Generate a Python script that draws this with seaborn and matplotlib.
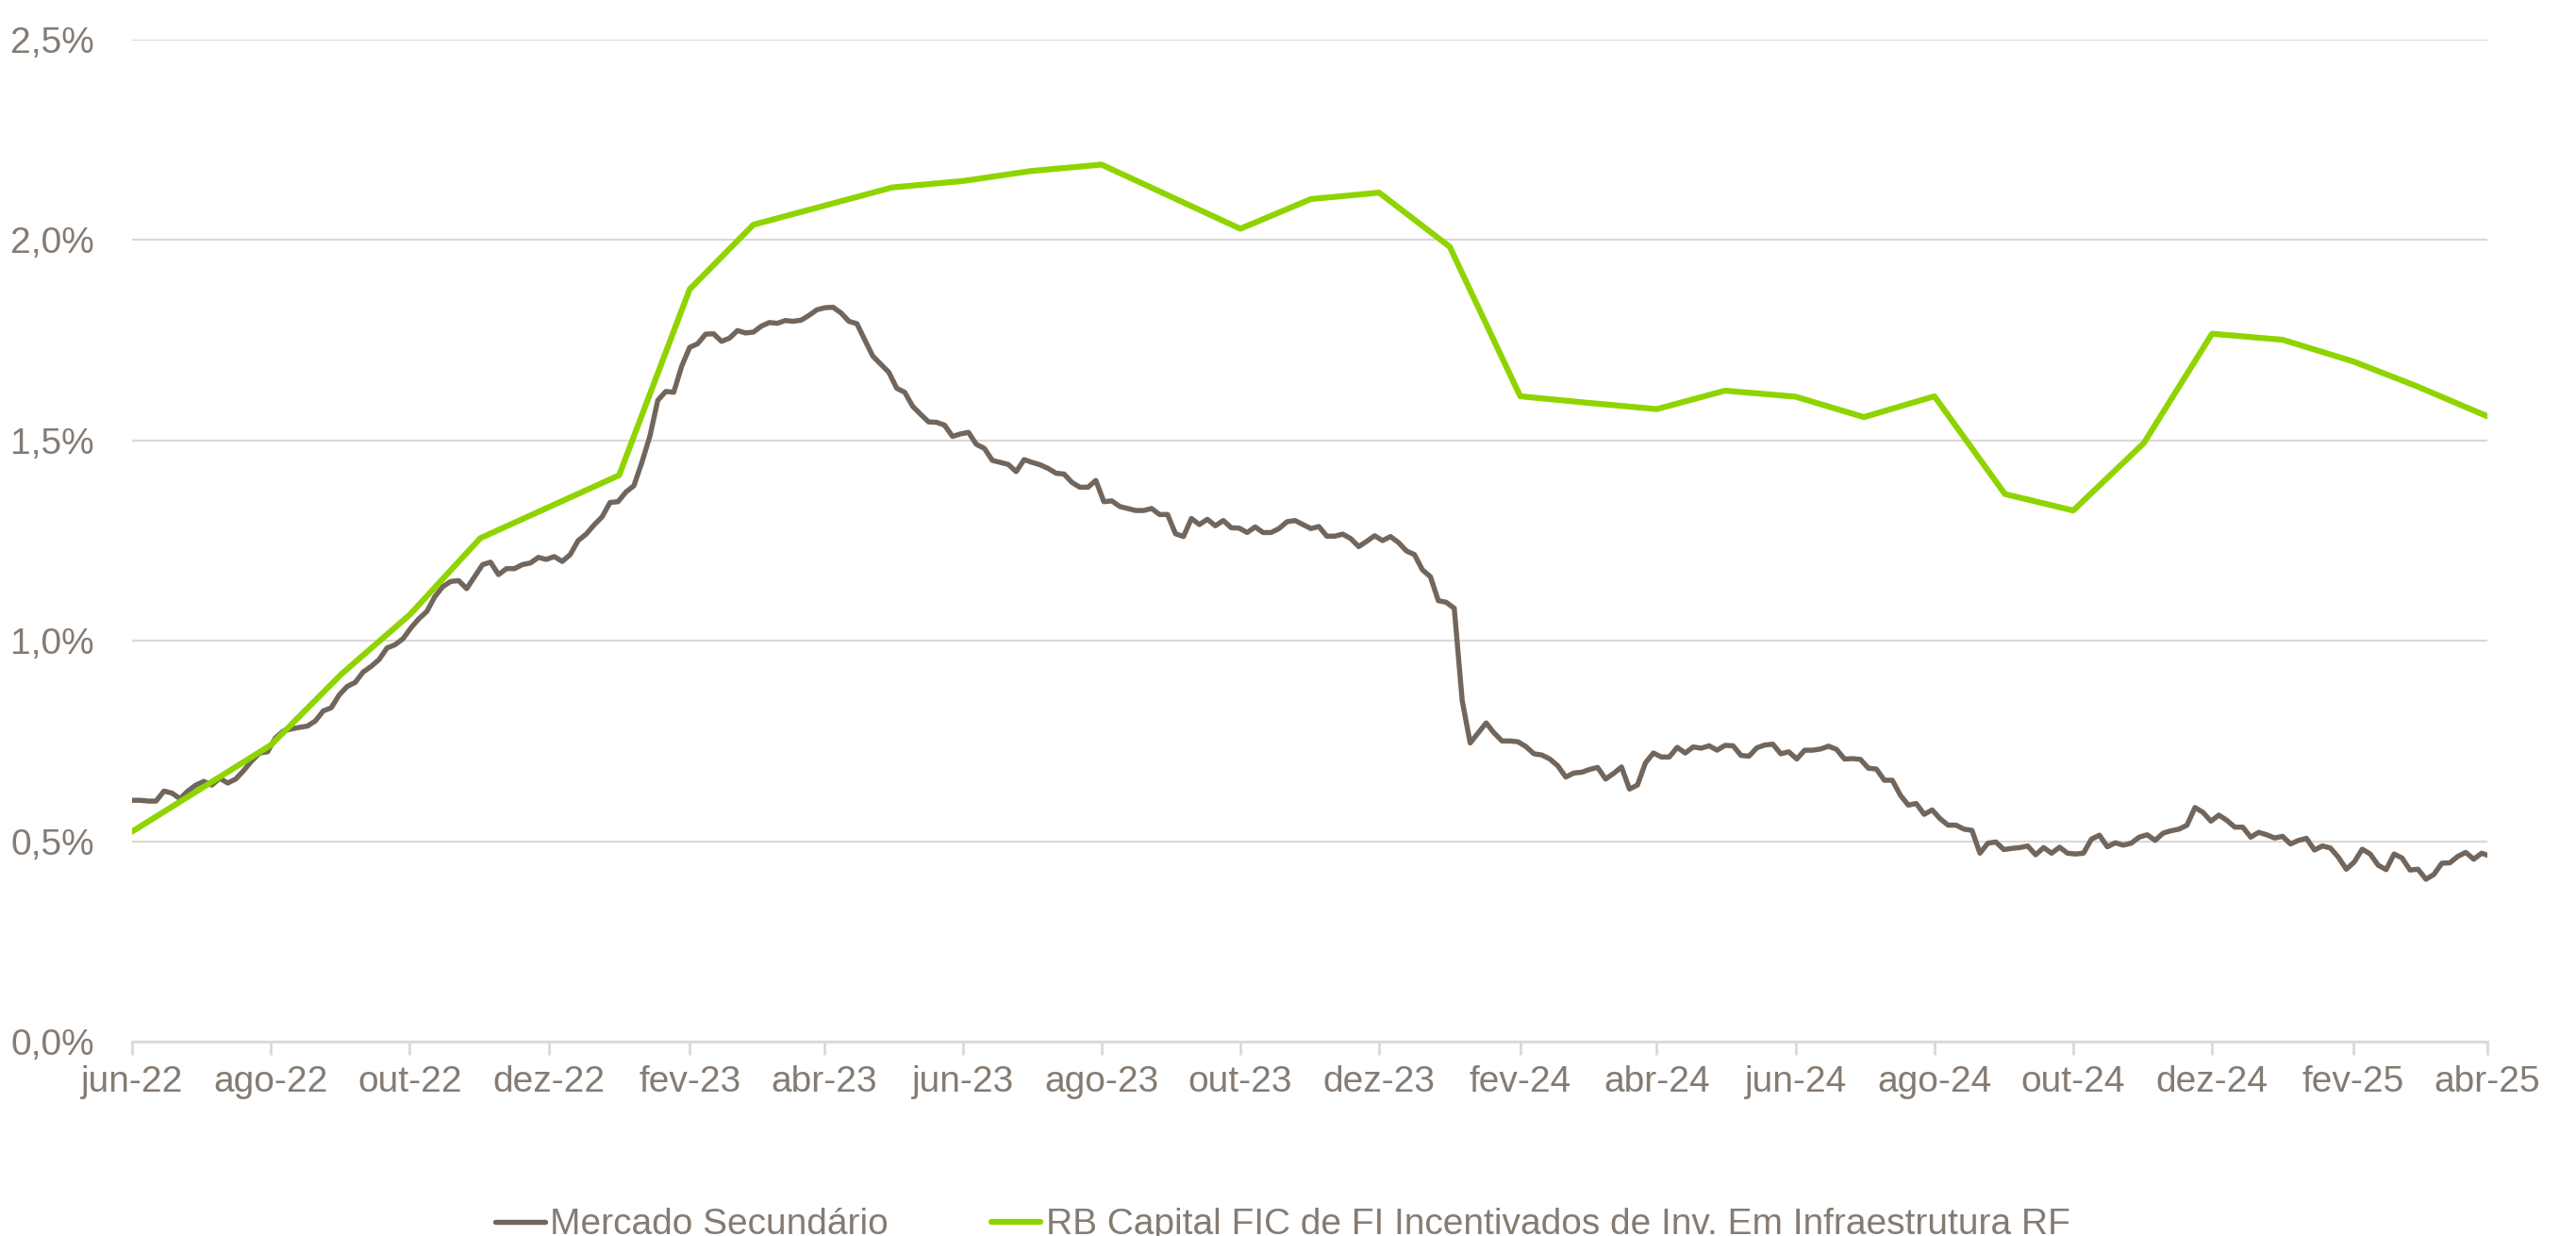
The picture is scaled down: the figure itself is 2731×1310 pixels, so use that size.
import matplotlib
matplotlib.use('Agg')
import pandas as pd
import matplotlib.pyplot as plt
import matplotlib.dates as mdates
from matplotlib.ticker import FuncFormatter
import seaborn as sns

# Mercado Secundário - leitura a cada 3,5 dias a partir de 01/06/2022 (%)
mercado_inicio = '2022-06-01'
mercado_passo = '84h'
mercado_secundario = [
    0.602, 0.602, 0.600, 0.600, 0.625, 0.620, 0.606, 0.625, 0.640, 0.649,
    0.640, 0.657, 0.645, 0.655, 0.676, 0.700, 0.720, 0.723, 0.758, 0.775,
    0.780, 0.784, 0.787, 0.800, 0.825, 0.833, 0.865, 0.886, 0.896, 0.922,
    0.936, 0.953, 0.982, 0.990, 1.005, 1.032, 1.055, 1.073, 1.110, 1.135,
    1.148, 1.150, 1.130, 1.160, 1.190, 1.196, 1.165, 1.180, 1.180, 1.190,
    1.194, 1.208, 1.203, 1.210, 1.198, 1.215, 1.250, 1.266, 1.289, 1.309,
    1.345, 1.347, 1.371, 1.387, 1.445, 1.510, 1.600, 1.622, 1.620, 1.685,
    1.732, 1.741, 1.765, 1.766, 1.747, 1.755, 1.774, 1.768, 1.770, 1.785,
    1.794, 1.792, 1.799, 1.797, 1.800, 1.812, 1.826, 1.831, 1.832, 1.818,
    1.797, 1.791, 1.750, 1.710, 1.690, 1.670, 1.630, 1.620, 1.585, 1.565,
    1.546, 1.545, 1.538, 1.510, 1.516, 1.520, 1.490, 1.480, 1.450, 1.445,
    1.440, 1.422, 1.452, 1.445, 1.439, 1.430, 1.418, 1.416, 1.395, 1.383,
    1.383, 1.400, 1.347, 1.349, 1.335, 1.330, 1.325, 1.325, 1.330, 1.315,
    1.315, 1.267, 1.260, 1.305, 1.290, 1.303, 1.287, 1.300, 1.282, 1.281,
    1.270, 1.284, 1.270, 1.270, 1.280, 1.297, 1.300, 1.290, 1.280, 1.285,
    1.261, 1.261, 1.266, 1.255, 1.235, 1.248, 1.262, 1.250, 1.260, 1.245,
    1.224, 1.215, 1.177, 1.160, 1.100, 1.096, 1.081, 0.850, 0.745, 0.770,
    0.795, 0.770, 0.750, 0.750, 0.748, 0.736, 0.718, 0.715, 0.705, 0.688,
    0.660, 0.670, 0.672, 0.679, 0.684, 0.655, 0.669, 0.685, 0.630, 0.640,
    0.695, 0.720, 0.710, 0.710, 0.734, 0.720, 0.735, 0.732, 0.738, 0.727,
    0.739, 0.738, 0.714, 0.712, 0.733, 0.740, 0.742, 0.718, 0.723, 0.705,
    0.727, 0.727, 0.730, 0.737, 0.729, 0.705, 0.706, 0.704, 0.682, 0.680,
    0.652, 0.652, 0.615, 0.590, 0.594, 0.567, 0.578, 0.556, 0.540, 0.540,
    0.530, 0.527, 0.470, 0.495, 0.498, 0.479, 0.482, 0.484, 0.488, 0.466,
    0.484, 0.470, 0.485, 0.470, 0.468, 0.470, 0.505, 0.515, 0.486, 0.496,
    0.490, 0.495, 0.510, 0.516, 0.502, 0.520, 0.526, 0.530, 0.540, 0.584,
    0.572, 0.550, 0.565, 0.552, 0.535, 0.535, 0.510, 0.522, 0.516, 0.508,
    0.512, 0.493, 0.502, 0.507, 0.478, 0.488, 0.483, 0.460, 0.430, 0.448,
    0.480, 0.468, 0.440, 0.429, 0.468, 0.458, 0.428, 0.430, 0.405, 0.417,
    0.445, 0.446, 0.462, 0.472, 0.455, 0.470, 0.463,
]

# RB Capital FIC - valores mensais (%)
fundo_datas = [
    '2022-06-01', '2022-08-01', '2022-09-01', '2022-10-01', '2022-11-01',
    '2023-01-01', '2023-02-01', '2023-03-01', '2023-05-01', '2023-06-01',
    '2023-07-01', '2023-08-01', '2023-10-01', '2023-11-01', '2023-12-01',
    '2024-01-01', '2024-02-01', '2024-03-01', '2024-04-01', '2024-05-01',
    '2024-06-01', '2024-07-01', '2024-08-01', '2024-09-01', '2024-10-01',
    '2024-11-01', '2024-12-01', '2025-01-01', '2025-02-01', '2025-03-01',
    '2025-04-01',
]
fundo_valores = [
    0.524, 0.740, 0.917, 1.065, 1.256,
    1.413, 1.877, 2.038, 2.131, 2.147,
    2.172, 2.188, 2.028, 2.102, 2.118,
    1.983, 1.610, 1.594, 1.578, 1.624,
    1.609, 1.558, 1.610, 1.366, 1.325,
    1.493, 1.766, 1.751, 1.697, 1.635,
    1.560,
]

meses_pt = {2: 'fev', 4: 'abr', 6: 'jun', 8: 'ago', 10: 'out', 12: 'dez'}
nome_mercado = 'Mercado Secundário'
nome_fundo = 'RB Capital FIC de FI Incentivados de Inv. Em Infraestrutura RF'

cor_mercado = '#72665c'
cor_fundo = '#8fd400'
cor_texto = '#857b72'
cor_grade = '#d9d9d9'

df_mercado = pd.DataFrame({
    'data': pd.date_range(mercado_inicio, periods=len(mercado_secundario), freq=mercado_passo),
    'taxa': mercado_secundario,
})
df_fundo = pd.DataFrame({'data': pd.to_datetime(fundo_datas), 'taxa': fundo_valores})

sns.set_theme(style='white')
plt.rcParams['font.family'] = ['Liberation Sans', 'DejaVu Sans']

fig = plt.figure(figsize=(27.31, 13.10), dpi=100)
ax = fig.add_axes([0.0513, 0.1573, 0.9143, 0.8107])

sns.lineplot(data=df_mercado, x='data', y='taxa', color=cor_mercado, linewidth=3.9,
             label=nome_mercado, ax=ax)
sns.lineplot(data=df_fundo, x='data', y='taxa', color=cor_fundo, linewidth=4.5,
             label=nome_fundo, ax=ax)

ax.set_xlim(pd.Timestamp('2022-06-01'), pd.Timestamp('2025-04-01'))
ax.set_ylim(0, 2.5)
ax.set_yticks([0, 0.5, 1.0, 1.5, 2.0, 2.5])
ax.yaxis.set_major_formatter(FuncFormatter(lambda v, p: f'{v:.1f}%'.replace('.', ',')))

ax.xaxis.set_major_locator(mdates.MonthLocator(bymonth=[2, 4, 6, 8, 10, 12]))
ax.xaxis.set_major_formatter(FuncFormatter(
    lambda v, p: f"{meses_pt[mdates.num2date(v).month]}-{mdates.num2date(v).strftime('%y')}"))

ax.grid(axis='y', color=cor_grade, linewidth=1.6)
ax.set_axisbelow(True)
for lado in ['top', 'right', 'left']:
    ax.spines[lado].set_visible(False)
ax.spines['bottom'].set_color(cor_grade)
ax.spines['bottom'].set_linewidth(2)

ax.tick_params(axis='x', colors=cor_texto, labelsize=28, length=10, width=2,
               color=cor_grade, pad=8, direction='out', bottom=True)
ax.tick_params(axis='y', colors=cor_texto, labelsize=28, length=0, pad=29)
ax.set_xlabel('')
ax.set_ylabel('')

ax.get_legend().remove()
handles, labels = ax.get_legend_handles_labels()
fig.legend(handles, labels, loc='center', bbox_to_anchor=(0.498, 0.009), ncol=2,
           frameon=False, fontsize=28, labelcolor=cor_texto, handlelength=1.35,
           handletextpad=0.15, columnspacing=2.8, borderpad=0)

fig.savefig('out.png', dpi=100)
